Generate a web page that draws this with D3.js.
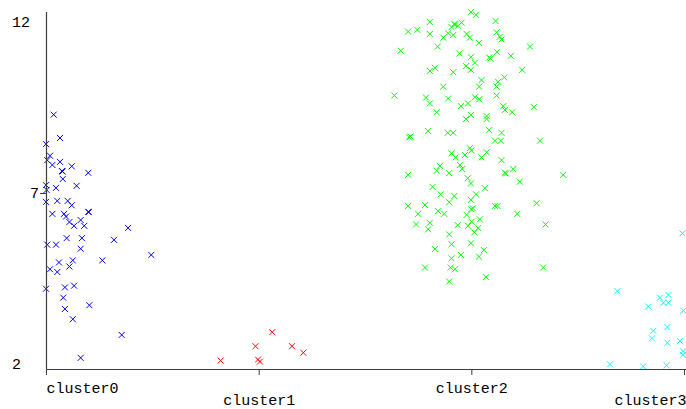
<!DOCTYPE html>
<html>
<head>
<meta charset="utf-8">
<script src="https://cdn.jsdelivr.net/npm/d3@7"></script>
<style>
  body { margin: 0; background: #fff; }
  svg { display: block; }
</style>
</head>
<body>
<script>
// Categories and value-axis ticks
const clusters = ["cluster0", "cluster1", "cluster2", "cluster3"];
const yTicks = [2, 7, 12];
const clusterColors = ["#0000ff", "#ff0000", "#00ff00", "#00ffff"];

// Each point: [jitter as a fraction of the category step, value]
const cluster0Points = [
  [0.036, 9.29], [0.066, 8.61], [0.000, 8.43], [0.019, 8.09], [0.006, 7.96],
  [0.030, 7.82], [0.066, 7.91], [0.121, 7.78], [0.075, 7.64], [0.078, 7.63],
  [0.199, 7.59], [0.079, 7.41], [0.144, 7.21], [0.000, 7.23], [0.003, 7.09],
  [0.047, 7.15], [0.000, 6.74], [0.053, 6.77], [0.102, 6.77], [0.121, 6.64],
  [0.199, 6.45], [0.201, 6.44], [0.030, 6.39], [0.085, 6.39], [0.094, 6.31],
  [0.110, 6.15], [0.163, 6.21], [0.132, 6.04], [0.180, 6.04], [0.386, 5.98],
  [0.097, 5.68], [0.169, 5.68], [0.320, 5.63], [0.006, 5.49], [0.047, 5.49],
  [0.163, 5.37], [0.495, 5.19], [0.061, 4.97], [0.126, 5.03], [0.265, 5.03],
  [0.019, 4.77], [0.053, 4.69], [0.110, 4.85], [0.000, 4.20], [0.089, 4.24],
  [0.132, 4.29], [0.081, 3.94], [0.204, 3.72], [0.089, 3.61], [0.126, 3.31],
  [0.356, 2.85], [0.163, 2.18]
];
const cluster1Points = [
  [-0.179, 2.10], [-0.015, 2.52], [0.064, 2.93], [0.157, 2.52],
  [0.210, 2.33], [-0.003, 2.13], [0.006, 2.07]
];
const cluster2Points = [
  [-0.002, 12.29], [0.022, 12.21], [-0.195, 12.00], [0.114, 12.03], [-0.297, 11.72],
  [-0.254, 11.77], [-0.195, 11.65], [-0.080, 11.94], [-0.046, 11.98], [-0.093, 11.85],
  [-0.076, 11.93], [-0.062, 11.89], [-0.109, 11.67], [-0.085, 11.62], [-0.132, 11.54],
  [-0.022, 11.65], [-0.007, 11.54], [0.119, 11.70], [0.134, 11.57], [0.142, 11.49],
  [0.036, 11.39], [-0.158, 11.28], [0.276, 11.28], [-0.332, 11.16], [-0.055, 11.08],
  [-0.002, 10.97], [0.084, 10.96], [0.090, 10.93], [0.120, 11.12], [0.186, 11.01],
  [0.017, 10.81], [-0.025, 10.71], [-0.002, 10.60], [-0.195, 10.57], [-0.171, 10.66],
  [-0.085, 10.53], [0.239, 10.60], [0.048, 10.30], [0.155, 10.38], [0.126, 10.25],
  [-0.132, 10.11], [0.037, 10.11], [0.119, 10.11], [-0.362, 9.85], [-0.213, 9.79],
  [-0.109, 9.76], [0.017, 9.80], [0.119, 9.85], [-0.195, 9.62], [-0.049, 9.54],
  [-0.015, 9.62], [0.037, 9.74], [0.150, 9.54], [0.158, 9.43], [0.192, 9.36],
  [0.294, 9.51], [-0.163, 9.36], [0.072, 9.25], [0.072, 9.16], [-0.025, 9.16],
  [-0.002, 9.28], [-0.203, 8.81], [-0.111, 8.76], [-0.085, 8.76], [0.084, 8.84],
  [0.142, 8.76], [0.111, 8.53], [0.139, 8.53], [0.323, 8.53], [-0.293, 8.63],
  [-0.286, 8.65], [-0.007, 8.31], [0.000, 8.24], [-0.093, 8.16], [-0.074, 8.04],
  [-0.030, 8.11], [0.072, 8.19], [0.048, 8.04], [0.142, 7.96], [-0.148, 7.79],
  [-0.163, 7.65], [-0.054, 7.82], [-0.043, 7.70], [-0.104, 7.58], [-0.297, 7.53],
  [0.158, 7.59], [0.163, 7.57], [0.197, 7.70], [0.228, 7.33], [0.432, 7.53],
  [-0.017, 7.43], [-0.002, 7.28], [-0.182, 7.18], [0.064, 7.14], [-0.144, 6.96],
  [-0.080, 6.91], [0.022, 6.96], [-0.104, 6.73], [-0.002, 6.80], [-0.297, 6.62],
  [-0.218, 6.65], [0.000, 6.53], [0.008, 6.55], [0.111, 6.62], [0.123, 6.62],
  [0.307, 6.70], [-0.250, 6.39], [-0.156, 6.47], [-0.127, 6.39], [-0.022, 6.36],
  [0.040, 6.23], [0.216, 6.39], [-0.260, 6.08], [-0.195, 6.13], [-0.203, 5.94],
  [-0.064, 6.06], [-0.015, 6.04], [0.001, 6.16], [0.032, 5.97], [0.014, 5.85],
  [0.349, 6.08], [-0.104, 5.79], [-0.093, 5.50], [-0.002, 5.53], [-0.171, 5.36],
  [0.059, 5.33], [-0.049, 5.19], [-0.093, 5.09], [0.036, 5.14], [-0.218, 4.82],
  [-0.097, 4.82], [-0.077, 4.77], [0.338, 4.82], [0.069, 4.54], [-0.104, 4.41]
];
const cluster3Points = [
  [-0.007, 5.82], [-0.313, 4.13], [-0.113, 3.94], [-0.073, 4.02], [-0.097, 3.79],
  [-0.073, 3.79], [-0.168, 3.68], [-0.003, 3.56], [-0.144, 2.97], [-0.078, 3.08],
  [-0.151, 2.75], [-0.078, 2.62], [-0.019, 2.67], [-0.005, 2.37], [-0.005, 2.27],
  [-0.348, 1.99], [-0.192, 1.93], [-0.082, 1.96]
];
const clusterPoints = [cluster0Points, cluster1Points, cluster2Points, cluster3Points];

const width = 686, height = 409;
const axisColor = "#3c3c3c";
const font = "'Liberation Mono', 'Courier New', monospace";

const svg = d3.select("body").append("svg")
  .attr("width", width)
  .attr("height", height);

const x = d3.scalePoint().domain(clusters).range([46, 684]);
const y = d3.scaleLinear().domain([2, 12]).range([364, 22]);
const axisY = 369;

// Points, one group per cluster, drawn as small crosses
const marker = "M-3,-3L3,3M-3,3L3,-3";
clusters.forEach((c, i) => {
  svg.append("g")
    .selectAll("path")
    .data(clusterPoints[i])
    .join("path")
    .attr("d", marker)
    .attr("transform", d => `translate(${x(c) + d[0] * x.step()},${y(d[1])})`)
    .attr("fill", "none")
    .attr("stroke", clusterColors[i])
    .attr("stroke-width", 1);
});

// Category axis, labels staggered on two rows
const xAxis = svg.append("g")
  .attr("transform", `translate(0,${axisY})`)
  .call(d3.axisBottom(x).tickSize(6).tickSizeOuter(0));
xAxis.select(".domain").remove();
xAxis.selectAll(".tick line").attr("stroke", axisColor);
xAxis.selectAll(".tick text")
  .attr("font-family", font)
  .attr("font-size", 15)
  .attr("fill", "#000")
  .attr("dy", null)
  .attr("y", (d, i) => i % 2 === 0 ? 24 : 36)
  .attr("text-anchor", (d, i) => i === 0 ? "start" : (i === clusters.length - 1 ? "end" : "middle"))
  .attr("x", (d, i) => i === clusters.length - 1 ? 2 : 0);

svg.append("line")
  .attr("x1", 46).attr("x2", width)
  .attr("y1", axisY + 0.5).attr("y2", axisY + 0.5)
  .attr("stroke", axisColor).attr("stroke-width", 1.2);

// Value axis
svg.append("line")
  .attr("x1", 46.5).attr("x2", 46.5)
  .attr("y1", 12).attr("y2", axisY)
  .attr("stroke", axisColor).attr("stroke-width", 1.2);

const [yMin, yMax] = d3.extent(yTicks);
const yTick = svg.append("g")
  .selectAll("g")
  .data(yTicks)
  .join("g")
  .attr("transform", d => `translate(0,${y(d)})`);

yTick.filter(d => d !== yMin && d !== yMax)
  .append("line")
  .attr("x1", 40).attr("x2", 46)
  .attr("y1", 0.5).attr("y2", 0.5)
  .attr("stroke", axisColor);

yTick.append("text")
  .attr("font-family", font)
  .attr("font-size", 15)
  .attr("fill", "#000")
  .attr("dy", "0.35em")
  .attr("x", d => (d === yMin || d === yMax) ? 12 : 39)
  .attr("text-anchor", d => (d === yMin || d === yMax) ? "start" : "end")
  .text(d => d);
</script>
</body>
</html>
